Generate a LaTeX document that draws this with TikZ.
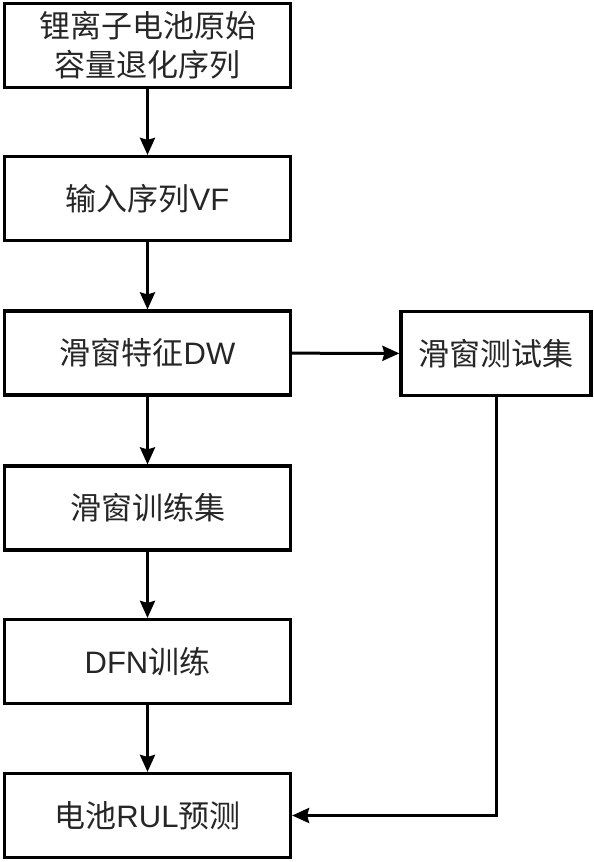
\documentclass[tikz,border=0pt]{standalone}
\usepackage{fontspec}
\setmainfont{Liberation Sans}
\newfontfamily\cjk{Noto Sans CJK SC}
\usetikzlibrary{arrows.meta}
\tikzset{
  box/.style={draw=black, line width=3.2pt, minimum width=286pt, minimum height=84pt, inner sep=0pt, align=center, font=\fontsize{31}{39}\selectfont, text=black!85},
  arr/.style={line width=3pt, -{Stealth[length=17pt,width=15pt,inset=2pt]}}
}
\begin{document}
\begin{tikzpicture}[x=1pt,y=-1pt]
\useasboundingbox (0,0) rectangle (594,862);
\node[box] (raw) at (147.5,45.5) {{\cjk 锂离子电池原始}\\{\cjk 容量退化序列}};
\node[box] (vf) at (147.5,198.5) {{\cjk 输入序列}VF};
\node[box] (dw) at (147.5,353) {{\cjk 滑窗特征}DW};
\node[box, minimum width=190pt] (test) at (496,353.5) {{\cjk 滑窗测试集}};
\node[box] (train) at (147.5,508) {{\cjk 滑窗训练集}};
\node[box] (dfn) at (147.5,661.5) {DFN{\cjk 训练}};
\node[box] (rul) at (147.5,815.5) {{\cjk 电池}RUL{\cjk 预测}};
\draw[arr] (raw) -- (vf);
\draw[arr] (vf) -- (dw);
\draw[arr] (dw) -- (test);
\draw[arr] (dw) -- (train);
\draw[arr] (train) -- (dfn);
\draw[arr] (dfn) -- (rul);
\draw[arr] (test.south) |- (rul.east);
\end{tikzpicture}
\end{document}
